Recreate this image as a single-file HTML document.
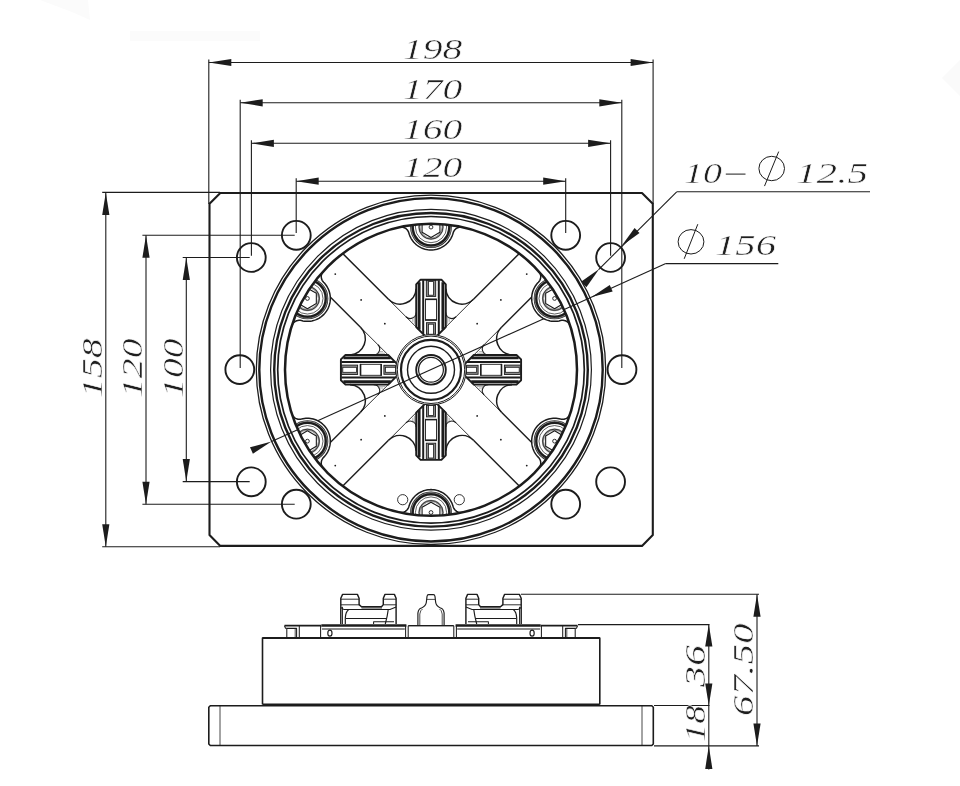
<!DOCTYPE html>
<html><head><meta charset="utf-8"><title>drawing</title><style>html,body{margin:0;padding:0;background:#fff;overflow:hidden}svg{display:block;filter:grayscale(1)}</style></head><body>
<svg width="960" height="786" viewBox="0 0 960 786" shape-rendering="geometricPrecision">
<rect width="960" height="786" fill="#fff"/>
<polygon points="40,0 88,0 90,20 72,12" fill="#fbfbfb"/>
<rect x="130" y="31" width="130" height="10" fill="#fbfbfb"/>
<polygon points="960,60 942,78 960,96" fill="#fafafa"/>
<polygon points="220.3,193 642,193 652.8,203.8 652.8,535.1 642,545.9 220.3,545.9 209.5,535.1 209.5,203.8" fill="none" stroke="#1f1b1c" stroke-width="2.1" stroke-linejoin="round" />
<circle cx="296.3" cy="235.3" r="14.4" fill="none" stroke="#1f1b1c" stroke-width="1.9"/>
<circle cx="565.7" cy="235.3" r="14.4" fill="none" stroke="#1f1b1c" stroke-width="1.9"/>
<circle cx="296.3" cy="504.2" r="14.4" fill="none" stroke="#1f1b1c" stroke-width="1.9"/>
<circle cx="565.7" cy="504.2" r="14.4" fill="none" stroke="#1f1b1c" stroke-width="1.9"/>
<circle cx="251.3" cy="257.5" r="14.4" fill="none" stroke="#1f1b1c" stroke-width="1.9"/>
<circle cx="610.6" cy="257.5" r="14.4" fill="none" stroke="#1f1b1c" stroke-width="1.9"/>
<circle cx="251.3" cy="481.8" r="14.4" fill="none" stroke="#1f1b1c" stroke-width="1.9"/>
<circle cx="610.6" cy="481.8" r="14.4" fill="none" stroke="#1f1b1c" stroke-width="1.9"/>
<circle cx="239.8" cy="369.6" r="14.4" fill="none" stroke="#1f1b1c" stroke-width="1.9"/>
<circle cx="622" cy="369.6" r="14.4" fill="none" stroke="#1f1b1c" stroke-width="1.9"/>
<g transform="rotate(0 431.0 369.8)">
<line x1="521" y1="251.8" x2="473.5" y2="299.3" stroke="#1f1b1c" stroke-width="1.5" />
<line x1="341" y1="251.8" x2="388.5" y2="299.3" stroke="#1f1b1c" stroke-width="1.5" />
</g>
<g transform="rotate(90 431.0 369.8)">
<line x1="521" y1="251.8" x2="473.5" y2="299.3" stroke="#1f1b1c" stroke-width="1.5" />
<line x1="341" y1="251.8" x2="388.5" y2="299.3" stroke="#1f1b1c" stroke-width="1.5" />
</g>
<g transform="rotate(180 431.0 369.8)">
<line x1="521" y1="251.8" x2="473.5" y2="299.3" stroke="#1f1b1c" stroke-width="1.5" />
<line x1="341" y1="251.8" x2="388.5" y2="299.3" stroke="#1f1b1c" stroke-width="1.5" />
</g>
<g transform="rotate(270 431.0 369.8)">
<line x1="521" y1="251.8" x2="473.5" y2="299.3" stroke="#1f1b1c" stroke-width="1.5" />
<line x1="341" y1="251.8" x2="388.5" y2="299.3" stroke="#1f1b1c" stroke-width="1.5" />
</g>
<circle cx="477.17" cy="415.97" r="0.9" fill="#1f1b1c"/>
<circle cx="500.86" cy="439.66" r="0.9" fill="#1f1b1c"/>
<circle cx="526.74" cy="465.54" r="0.9" fill="#1f1b1c"/>
<circle cx="384.83" cy="415.97" r="0.9" fill="#1f1b1c"/>
<circle cx="361.14" cy="439.66" r="0.9" fill="#1f1b1c"/>
<circle cx="335.26" cy="465.54" r="0.9" fill="#1f1b1c"/>
<circle cx="384.83" cy="323.63" r="0.9" fill="#1f1b1c"/>
<circle cx="361.14" cy="299.94" r="0.9" fill="#1f1b1c"/>
<circle cx="335.26" cy="274.06" r="0.9" fill="#1f1b1c"/>
<circle cx="477.17" cy="323.63" r="0.9" fill="#1f1b1c"/>
<circle cx="500.86" cy="299.94" r="0.9" fill="#1f1b1c"/>
<circle cx="526.74" cy="274.06" r="0.9" fill="#1f1b1c"/>
<circle cx="402.7" cy="499.7" r="5.1" fill="none" stroke="#1f1b1c" stroke-width="0.9"/>
<circle cx="459.3" cy="499.7" r="5.1" fill="none" stroke="#1f1b1c" stroke-width="0.9"/>
<clipPath id="inner"><circle cx="431" cy="369.8" r="146"/></clipPath>
<g clip-path="url(#inner)">
<polygon points="570.24,413.72 569.78,414.85 569.16,415.9 568.39,416.85 567.48,417.66 566.45,418.33 565.34,418.83 564.16,419.16 562.95,419.3 561.73,419.26 560.53,419.04 560.53,419.04 559.07,418.69 557.59,418.45 556.1,418.3 554.6,418.25 553.1,418.3 551.61,418.44 550.13,418.69 548.67,419.03 547.23,419.46 545.83,419.99 544.46,420.61 543.14,421.31 541.87,422.1 540.65,422.98 539.49,423.93 538.39,424.95 537.37,426.05 536.42,427.21 535.54,428.43 534.75,429.7 534.04,431.02 533.42,432.39 532.9,433.79 532.46,435.23 532.12,436.69 531.88,438.17 531.73,439.66 531.68,441.16 531.73,442.66 531.88,444.15 532.12,445.63 532.47,447.09 532.9,448.52 533.43,449.93 534.05,451.29 534.76,452.62 535.55,453.89 536.43,455.11 537.38,456.27 538.41,457.36 538.41,457.36 539.2,458.28 539.85,459.32 540.33,460.44 540.63,461.63 540.75,462.84 540.69,464.06 540.43,465.26 540.01,466.4 539.41,467.46 538.65,468.43 543.08,472.48 575.96,415.52" fill="#fff" stroke="#1f1b1c" stroke-width="1.5" stroke-linejoin="round" />
<circle cx="554.58" cy="441.15" r="19" fill="none" stroke="#1f1b1c" stroke-width="3.8"/>
<circle cx="554.58" cy="441.15" r="19.9" fill="none" stroke="#fff" stroke-width="0.45"/>
<circle cx="554.58" cy="441.15" r="15.6" fill="none" stroke="#1f1b1c" stroke-width="0.7"/>
<circle cx="554.58" cy="441.15" r="11.6" fill="none" stroke="#9a9a9a" stroke-width="2.2"/>
<circle cx="554.58" cy="441.15" r="12" fill="none" stroke="#1f1b1c" stroke-width="0.8"/>
<polygon points="554.58,451.45 545.66,446.3 545.66,436 554.58,430.85 563.5,436 563.5,446.3" fill="#fff" stroke="#1f1b1c" stroke-width="1.1" stroke-linejoin="round" />
<circle cx="554.58" cy="441.15" r="1.9" fill="none" stroke="#1f1b1c" stroke-width="0.9"/>
<polygon points="462.59,512.34 461.38,512.51 460.16,512.5 458.95,512.3 457.79,511.92 456.7,511.37 455.71,510.66 454.84,509.8 454.1,508.82 453.53,507.75 453.13,506.59 453.13,506.59 452.69,505.16 452.16,503.76 451.55,502.39 450.84,501.07 450.05,499.79 449.18,498.57 448.23,497.41 447.2,496.32 446.11,495.29 444.95,494.34 443.73,493.46 442.46,492.67 441.14,491.97 439.77,491.35 438.37,490.82 436.93,490.38 435.47,490.04 433.99,489.8 432.5,489.65 431,489.6 429.5,489.65 428.01,489.8 426.53,490.04 425.07,490.38 423.63,490.82 422.23,491.35 420.86,491.97 419.54,492.67 418.27,493.46 417.05,494.34 415.89,495.29 414.8,496.32 413.77,497.41 412.82,498.57 411.95,499.79 411.16,501.07 410.45,502.39 409.84,503.76 409.31,505.16 408.87,506.59 408.87,506.59 408.47,507.75 407.9,508.82 407.16,509.8 406.29,510.66 405.3,511.37 404.21,511.92 403.05,512.3 401.84,512.5 400.62,512.51 399.41,512.34 398.12,518.2 463.88,518.2" fill="#fff" stroke="#1f1b1c" stroke-width="1.5" stroke-linejoin="round" />
<circle cx="431" cy="512.5" r="19" fill="none" stroke="#1f1b1c" stroke-width="3.8"/>
<circle cx="431" cy="512.5" r="19.9" fill="none" stroke="#fff" stroke-width="0.45"/>
<circle cx="431" cy="512.5" r="15.6" fill="none" stroke="#1f1b1c" stroke-width="0.7"/>
<circle cx="431" cy="512.5" r="11.6" fill="none" stroke="#9a9a9a" stroke-width="2.2"/>
<circle cx="431" cy="512.5" r="12" fill="none" stroke="#1f1b1c" stroke-width="0.8"/>
<polygon points="431,522.8 422.08,517.65 422.08,507.35 431,502.2 439.92,507.35 439.92,517.65" fill="#fff" stroke="#1f1b1c" stroke-width="1.1" stroke-linejoin="round" />
<circle cx="431" cy="512.5" r="1.9" fill="none" stroke="#1f1b1c" stroke-width="0.9"/>
<polygon points="323.35,468.43 322.59,467.46 321.99,466.4 321.57,465.26 321.31,464.06 321.25,462.84 321.37,461.63 321.67,460.44 322.15,459.32 322.8,458.28 323.59,457.36 323.59,457.36 324.62,456.27 325.57,455.11 326.45,453.89 327.24,452.62 327.95,451.29 328.57,449.93 329.1,448.52 329.53,447.09 329.88,445.63 330.12,444.15 330.27,442.66 330.32,441.16 330.27,439.66 330.12,438.17 329.88,436.69 329.54,435.23 329.1,433.79 328.58,432.39 327.96,431.02 327.25,429.7 326.46,428.43 325.58,427.21 324.63,426.05 323.61,424.95 322.51,423.93 321.35,422.98 320.13,422.1 318.86,421.31 317.54,420.61 316.17,419.99 314.77,419.46 313.33,419.03 311.87,418.69 310.39,418.44 308.9,418.3 307.4,418.25 305.9,418.3 304.41,418.45 302.93,418.69 301.47,419.04 301.47,419.04 300.27,419.26 299.05,419.3 297.84,419.16 296.66,418.83 295.55,418.33 294.52,417.66 293.61,416.85 292.84,415.9 292.22,414.85 291.76,413.72 286.04,415.52 318.92,472.48" fill="#fff" stroke="#1f1b1c" stroke-width="1.5" stroke-linejoin="round" />
<circle cx="307.42" cy="441.15" r="19" fill="none" stroke="#1f1b1c" stroke-width="3.8"/>
<circle cx="307.42" cy="441.15" r="19.9" fill="none" stroke="#fff" stroke-width="0.45"/>
<circle cx="307.42" cy="441.15" r="15.6" fill="none" stroke="#1f1b1c" stroke-width="0.7"/>
<circle cx="307.42" cy="441.15" r="11.6" fill="none" stroke="#9a9a9a" stroke-width="2.2"/>
<circle cx="307.42" cy="441.15" r="12" fill="none" stroke="#1f1b1c" stroke-width="0.8"/>
<polygon points="307.42,451.45 298.5,446.3 298.5,436 307.42,430.85 316.34,436 316.34,446.3" fill="#fff" stroke="#1f1b1c" stroke-width="1.1" stroke-linejoin="round" />
<circle cx="307.42" cy="441.15" r="1.9" fill="none" stroke="#1f1b1c" stroke-width="0.9"/>
<polygon points="291.76,325.88 292.22,324.75 292.84,323.7 293.61,322.75 294.52,321.94 295.55,321.27 296.66,320.77 297.84,320.44 299.05,320.3 300.27,320.34 301.47,320.56 301.47,320.56 302.93,320.91 304.41,321.15 305.9,321.3 307.4,321.35 308.9,321.3 310.39,321.16 311.87,320.91 313.33,320.57 314.77,320.14 316.17,319.61 317.54,318.99 318.86,318.29 320.13,317.5 321.35,316.62 322.51,315.67 323.61,314.65 324.63,313.55 325.58,312.39 326.46,311.17 327.25,309.9 327.96,308.58 328.58,307.21 329.1,305.81 329.54,304.37 329.88,302.91 330.12,301.43 330.27,299.94 330.32,298.44 330.27,296.94 330.12,295.45 329.88,293.97 329.53,292.51 329.1,291.08 328.57,289.67 327.95,288.31 327.24,286.98 326.45,285.71 325.57,284.49 324.62,283.33 323.59,282.24 323.59,282.24 322.8,281.32 322.15,280.28 321.67,279.16 321.37,277.97 321.25,276.76 321.31,275.54 321.57,274.34 321.99,273.2 322.59,272.14 323.35,271.17 318.92,267.12 286.04,324.08" fill="#fff" stroke="#1f1b1c" stroke-width="1.5" stroke-linejoin="round" />
<circle cx="307.42" cy="298.45" r="19" fill="none" stroke="#1f1b1c" stroke-width="3.8"/>
<circle cx="307.42" cy="298.45" r="19.9" fill="none" stroke="#fff" stroke-width="0.45"/>
<circle cx="307.42" cy="298.45" r="15.6" fill="none" stroke="#1f1b1c" stroke-width="0.7"/>
<circle cx="307.42" cy="298.45" r="11.6" fill="none" stroke="#9a9a9a" stroke-width="2.2"/>
<circle cx="307.42" cy="298.45" r="12" fill="none" stroke="#1f1b1c" stroke-width="0.8"/>
<polygon points="307.42,308.75 298.5,303.6 298.5,293.3 307.42,288.15 316.34,293.3 316.34,303.6" fill="#fff" stroke="#1f1b1c" stroke-width="1.1" stroke-linejoin="round" />
<circle cx="307.42" cy="298.45" r="1.9" fill="none" stroke="#1f1b1c" stroke-width="0.9"/>
<polygon points="399.41,227.26 400.62,227.09 401.84,227.1 403.05,227.3 404.21,227.68 405.3,228.23 406.29,228.94 407.16,229.8 407.9,230.78 408.47,231.85 408.87,233.01 408.87,233.01 409.31,234.44 409.84,235.84 410.45,237.21 411.16,238.53 411.95,239.81 412.82,241.03 413.77,242.19 414.8,243.28 415.89,244.31 417.05,245.26 418.27,246.14 419.54,246.93 420.86,247.63 422.23,248.25 423.63,248.78 425.07,249.22 426.53,249.56 428.01,249.8 429.5,249.95 431,250 432.5,249.95 433.99,249.8 435.47,249.56 436.93,249.22 438.37,248.78 439.77,248.25 441.14,247.63 442.46,246.93 443.73,246.14 444.95,245.26 446.11,244.31 447.2,243.28 448.23,242.19 449.18,241.03 450.05,239.81 450.84,238.53 451.55,237.21 452.16,235.84 452.69,234.44 453.13,233.01 453.13,233.01 453.53,231.85 454.1,230.78 454.84,229.8 455.71,228.94 456.7,228.23 457.79,227.68 458.95,227.3 460.16,227.1 461.38,227.09 462.59,227.26 463.88,221.4 398.12,221.4" fill="#fff" stroke="#1f1b1c" stroke-width="1.5" stroke-linejoin="round" />
<circle cx="431" cy="227.1" r="19" fill="none" stroke="#1f1b1c" stroke-width="3.8"/>
<circle cx="431" cy="227.1" r="19.9" fill="none" stroke="#fff" stroke-width="0.45"/>
<circle cx="431" cy="227.1" r="15.6" fill="none" stroke="#1f1b1c" stroke-width="0.7"/>
<circle cx="431" cy="227.1" r="11.6" fill="none" stroke="#9a9a9a" stroke-width="2.2"/>
<circle cx="431" cy="227.1" r="12" fill="none" stroke="#1f1b1c" stroke-width="0.8"/>
<polygon points="431,237.4 422.08,232.25 422.08,221.95 431,216.8 439.92,221.95 439.92,232.25" fill="#fff" stroke="#1f1b1c" stroke-width="1.1" stroke-linejoin="round" />
<circle cx="431" cy="227.1" r="1.9" fill="none" stroke="#1f1b1c" stroke-width="0.9"/>
<polygon points="538.65,271.17 539.41,272.14 540.01,273.2 540.43,274.34 540.69,275.54 540.75,276.76 540.63,277.97 540.33,279.16 539.85,280.28 539.2,281.32 538.41,282.24 538.41,282.24 537.38,283.33 536.43,284.49 535.55,285.71 534.76,286.98 534.05,288.31 533.43,289.67 532.9,291.08 532.47,292.51 532.12,293.97 531.88,295.45 531.73,296.94 531.68,298.44 531.73,299.94 531.88,301.43 532.12,302.91 532.46,304.37 532.9,305.81 533.42,307.21 534.04,308.58 534.75,309.9 535.54,311.17 536.42,312.39 537.37,313.55 538.39,314.65 539.49,315.67 540.65,316.62 541.87,317.5 543.14,318.29 544.46,318.99 545.83,319.61 547.23,320.14 548.67,320.57 550.13,320.91 551.61,321.16 553.1,321.3 554.6,321.35 556.1,321.3 557.59,321.15 559.07,320.91 560.53,320.56 560.53,320.56 561.73,320.34 562.95,320.3 564.16,320.44 565.34,320.77 566.45,321.27 567.48,321.94 568.39,322.75 569.16,323.7 569.78,324.75 570.24,325.88 575.96,324.08 543.08,267.12" fill="#fff" stroke="#1f1b1c" stroke-width="1.5" stroke-linejoin="round" />
<circle cx="554.58" cy="298.45" r="19" fill="none" stroke="#1f1b1c" stroke-width="3.8"/>
<circle cx="554.58" cy="298.45" r="19.9" fill="none" stroke="#fff" stroke-width="0.45"/>
<circle cx="554.58" cy="298.45" r="15.6" fill="none" stroke="#1f1b1c" stroke-width="0.7"/>
<circle cx="554.58" cy="298.45" r="11.6" fill="none" stroke="#9a9a9a" stroke-width="2.2"/>
<circle cx="554.58" cy="298.45" r="12" fill="none" stroke="#1f1b1c" stroke-width="0.8"/>
<polygon points="554.58,308.75 545.66,303.6 545.66,293.3 554.58,288.15 563.5,293.3 563.5,303.6" fill="#fff" stroke="#1f1b1c" stroke-width="1.1" stroke-linejoin="round" />
<circle cx="554.58" cy="298.45" r="1.9" fill="none" stroke="#1f1b1c" stroke-width="0.9"/>
</g>
<polygon points="599.2,269 586.4,287.2 581,281.8" fill="#1f1b1c"/>
<path d="M256.3,369.8 a174.7,174.7 0 1 0 349.4,0 a174.7,174.7 0 1 0 -349.4,0 Z M285,369.8 a146.0,146.0 0 1 1 292.0,0 a146.0,146.0 0 1 1 -292.0,0 Z" fill="#fff" fill-rule="evenodd" id="annulus"/>
<circle cx="431" cy="369.8" r="174.7" fill="none" stroke="#1f1b1c" stroke-width="1.3"/>
<circle cx="431" cy="369.8" r="171.7" fill="none" stroke="#1f1b1c" stroke-width="2.4"/>
<circle cx="431" cy="369.8" r="160.4" fill="none" stroke="#1f1b1c" stroke-width="1.2"/>
<circle cx="431" cy="369.8" r="156.8" fill="none" stroke="#1f1b1c" stroke-width="2.4"/>
<circle cx="431" cy="369.8" r="153.3" fill="none" stroke="#1f1b1c" stroke-width="1.7"/>
<circle cx="431" cy="369.8" r="146" fill="none" stroke="#1f1b1c" stroke-width="2.5"/>
<g transform="rotate(0 431.0 369.8)">
<line x1="473.5" y1="299.3" x2="439" y2="333.8" stroke="#1f1b1c" stroke-width="0.9" />
<line x1="388.5" y1="299.3" x2="423" y2="333.8" stroke="#1f1b1c" stroke-width="0.9" />
<polyline points="425,335.8 416.2,327 416.2,284.3 420.6,279.7 441.4,279.7 445.8,284.3 445.8,327 437,335.8" fill="#fff" stroke="#1f1b1c" stroke-width="1.9" stroke-linejoin="round" />
<line x1="419.1" y1="329.6" x2="419.1" y2="282.2" stroke="#1f1b1c" stroke-width="2.9" />
<line x1="423.2" y1="333.8" x2="423.2" y2="280.2" stroke="#1f1b1c" stroke-width="2.0" />
<line x1="442.9" y1="329.6" x2="442.9" y2="282.2" stroke="#1f1b1c" stroke-width="2.9" />
<line x1="438.8" y1="333.8" x2="438.8" y2="280.2" stroke="#1f1b1c" stroke-width="2.0" />
<rect x="426.3" y="280.4" width="9.4" height="16.0" fill="#8c8c8c" stroke="#1f1b1c" stroke-width="0.9"/>
<rect x="428.5" y="281.6" width="5.0" height="13.6" fill="#fff" stroke="#1f1b1c" stroke-width="0.8"/>
<rect x="425.5" y="299.4" width="11.0" height="20.6" fill="#fff" stroke="#1f1b1c" stroke-width="0.9"/>
<line x1="425.1" y1="299.3" x2="436.9" y2="299.3" stroke="#1f1b1c" stroke-width="1.6" />
<line x1="425.1" y1="320" x2="436.9" y2="320" stroke="#1f1b1c" stroke-width="1.5" />
<rect x="426.5" y="322.7" width="9" height="11.5" fill="#8c8c8c" stroke="#1f1b1c" stroke-width="0.9"/>
<rect x="428.5" y="324.2" width="5" height="10" fill="#fff" stroke="#1f1b1c" stroke-width="0.8"/>
<path d="M445.8,288.8 A16.2,16.2 0 0 0 473.5,299.3" fill="none" stroke="#1f1b1c" stroke-width="1.6"/>
<path d="M445.8,312.5 A6,6 0 0 0 456.04,316.74" fill="none" stroke="#1f1b1c" stroke-width="1.1"/>
<line x1="447.6" y1="323.8" x2="447.6" y2="315.8" stroke="#777" stroke-width="0.6" />
<line x1="449.2" y1="321.8" x2="449.2" y2="316.8" stroke="#777" stroke-width="0.6" />
<path d="M416.2,288.8 A16.2,16.2 0 0 1 388.5,299.3" fill="none" stroke="#1f1b1c" stroke-width="1.6"/>
<path d="M416.2,312.5 A6,6 0 0 1 405.96,316.74" fill="none" stroke="#1f1b1c" stroke-width="1.1"/>
<line x1="414.4" y1="323.8" x2="414.4" y2="315.8" stroke="#777" stroke-width="0.6" />
<line x1="412.8" y1="321.8" x2="412.8" y2="316.8" stroke="#777" stroke-width="0.6" />
</g>
<g transform="rotate(90 431.0 369.8)">
<line x1="473.5" y1="299.3" x2="439" y2="333.8" stroke="#1f1b1c" stroke-width="0.9" />
<line x1="388.5" y1="299.3" x2="423" y2="333.8" stroke="#1f1b1c" stroke-width="0.9" />
<polyline points="425,335.8 416.2,327 416.2,284.3 420.6,279.7 441.4,279.7 445.8,284.3 445.8,327 437,335.8" fill="#fff" stroke="#1f1b1c" stroke-width="1.9" stroke-linejoin="round" />
<line x1="419.1" y1="329.6" x2="419.1" y2="282.2" stroke="#1f1b1c" stroke-width="2.9" />
<line x1="423.2" y1="333.8" x2="423.2" y2="280.2" stroke="#1f1b1c" stroke-width="2.0" />
<line x1="442.9" y1="329.6" x2="442.9" y2="282.2" stroke="#1f1b1c" stroke-width="2.9" />
<line x1="438.8" y1="333.8" x2="438.8" y2="280.2" stroke="#1f1b1c" stroke-width="2.0" />
<rect x="426.3" y="280.4" width="9.4" height="16.0" fill="#8c8c8c" stroke="#1f1b1c" stroke-width="0.9"/>
<rect x="428.5" y="281.6" width="5.0" height="13.6" fill="#fff" stroke="#1f1b1c" stroke-width="0.8"/>
<rect x="425.5" y="299.4" width="11.0" height="20.6" fill="#fff" stroke="#1f1b1c" stroke-width="0.9"/>
<line x1="425.1" y1="299.3" x2="436.9" y2="299.3" stroke="#1f1b1c" stroke-width="1.6" />
<line x1="425.1" y1="320" x2="436.9" y2="320" stroke="#1f1b1c" stroke-width="1.5" />
<rect x="426.5" y="322.7" width="9" height="11.5" fill="#8c8c8c" stroke="#1f1b1c" stroke-width="0.9"/>
<rect x="428.5" y="324.2" width="5" height="10" fill="#fff" stroke="#1f1b1c" stroke-width="0.8"/>
<path d="M445.8,288.8 A16.2,16.2 0 0 0 473.5,299.3" fill="none" stroke="#1f1b1c" stroke-width="1.6"/>
<path d="M445.8,312.5 A6,6 0 0 0 456.04,316.74" fill="none" stroke="#1f1b1c" stroke-width="1.1"/>
<line x1="447.6" y1="323.8" x2="447.6" y2="315.8" stroke="#777" stroke-width="0.6" />
<line x1="449.2" y1="321.8" x2="449.2" y2="316.8" stroke="#777" stroke-width="0.6" />
<path d="M416.2,288.8 A16.2,16.2 0 0 1 388.5,299.3" fill="none" stroke="#1f1b1c" stroke-width="1.6"/>
<path d="M416.2,312.5 A6,6 0 0 1 405.96,316.74" fill="none" stroke="#1f1b1c" stroke-width="1.1"/>
<line x1="414.4" y1="323.8" x2="414.4" y2="315.8" stroke="#777" stroke-width="0.6" />
<line x1="412.8" y1="321.8" x2="412.8" y2="316.8" stroke="#777" stroke-width="0.6" />
</g>
<g transform="rotate(180 431.0 369.8)">
<line x1="473.5" y1="299.3" x2="439" y2="333.8" stroke="#1f1b1c" stroke-width="0.9" />
<line x1="388.5" y1="299.3" x2="423" y2="333.8" stroke="#1f1b1c" stroke-width="0.9" />
<polyline points="425,335.8 416.2,327 416.2,284.3 420.6,279.7 441.4,279.7 445.8,284.3 445.8,327 437,335.8" fill="#fff" stroke="#1f1b1c" stroke-width="1.9" stroke-linejoin="round" />
<line x1="419.1" y1="329.6" x2="419.1" y2="282.2" stroke="#1f1b1c" stroke-width="2.9" />
<line x1="423.2" y1="333.8" x2="423.2" y2="280.2" stroke="#1f1b1c" stroke-width="2.0" />
<line x1="442.9" y1="329.6" x2="442.9" y2="282.2" stroke="#1f1b1c" stroke-width="2.9" />
<line x1="438.8" y1="333.8" x2="438.8" y2="280.2" stroke="#1f1b1c" stroke-width="2.0" />
<rect x="426.3" y="280.4" width="9.4" height="16.0" fill="#8c8c8c" stroke="#1f1b1c" stroke-width="0.9"/>
<rect x="428.5" y="281.6" width="5.0" height="13.6" fill="#fff" stroke="#1f1b1c" stroke-width="0.8"/>
<rect x="425.5" y="299.4" width="11.0" height="20.6" fill="#fff" stroke="#1f1b1c" stroke-width="0.9"/>
<line x1="425.1" y1="299.3" x2="436.9" y2="299.3" stroke="#1f1b1c" stroke-width="1.6" />
<line x1="425.1" y1="320" x2="436.9" y2="320" stroke="#1f1b1c" stroke-width="1.5" />
<rect x="426.5" y="322.7" width="9" height="11.5" fill="#8c8c8c" stroke="#1f1b1c" stroke-width="0.9"/>
<rect x="428.5" y="324.2" width="5" height="10" fill="#fff" stroke="#1f1b1c" stroke-width="0.8"/>
<path d="M445.8,288.8 A16.2,16.2 0 0 0 473.5,299.3" fill="none" stroke="#1f1b1c" stroke-width="1.6"/>
<path d="M445.8,312.5 A6,6 0 0 0 456.04,316.74" fill="none" stroke="#1f1b1c" stroke-width="1.1"/>
<line x1="447.6" y1="323.8" x2="447.6" y2="315.8" stroke="#777" stroke-width="0.6" />
<line x1="449.2" y1="321.8" x2="449.2" y2="316.8" stroke="#777" stroke-width="0.6" />
<path d="M416.2,288.8 A16.2,16.2 0 0 1 388.5,299.3" fill="none" stroke="#1f1b1c" stroke-width="1.6"/>
<path d="M416.2,312.5 A6,6 0 0 1 405.96,316.74" fill="none" stroke="#1f1b1c" stroke-width="1.1"/>
<line x1="414.4" y1="323.8" x2="414.4" y2="315.8" stroke="#777" stroke-width="0.6" />
<line x1="412.8" y1="321.8" x2="412.8" y2="316.8" stroke="#777" stroke-width="0.6" />
</g>
<g transform="rotate(270 431.0 369.8)">
<line x1="473.5" y1="299.3" x2="439" y2="333.8" stroke="#1f1b1c" stroke-width="0.9" />
<line x1="388.5" y1="299.3" x2="423" y2="333.8" stroke="#1f1b1c" stroke-width="0.9" />
<polyline points="425,335.8 416.2,327 416.2,284.3 420.6,279.7 441.4,279.7 445.8,284.3 445.8,327 437,335.8" fill="#fff" stroke="#1f1b1c" stroke-width="1.9" stroke-linejoin="round" />
<line x1="419.1" y1="329.6" x2="419.1" y2="282.2" stroke="#1f1b1c" stroke-width="2.9" />
<line x1="423.2" y1="333.8" x2="423.2" y2="280.2" stroke="#1f1b1c" stroke-width="2.0" />
<line x1="442.9" y1="329.6" x2="442.9" y2="282.2" stroke="#1f1b1c" stroke-width="2.9" />
<line x1="438.8" y1="333.8" x2="438.8" y2="280.2" stroke="#1f1b1c" stroke-width="2.0" />
<rect x="426.3" y="280.4" width="9.4" height="16.0" fill="#8c8c8c" stroke="#1f1b1c" stroke-width="0.9"/>
<rect x="428.5" y="281.6" width="5.0" height="13.6" fill="#fff" stroke="#1f1b1c" stroke-width="0.8"/>
<rect x="425.5" y="299.4" width="11.0" height="20.6" fill="#fff" stroke="#1f1b1c" stroke-width="0.9"/>
<line x1="425.1" y1="299.3" x2="436.9" y2="299.3" stroke="#1f1b1c" stroke-width="1.6" />
<line x1="425.1" y1="320" x2="436.9" y2="320" stroke="#1f1b1c" stroke-width="1.5" />
<rect x="426.5" y="322.7" width="9" height="11.5" fill="#8c8c8c" stroke="#1f1b1c" stroke-width="0.9"/>
<rect x="428.5" y="324.2" width="5" height="10" fill="#fff" stroke="#1f1b1c" stroke-width="0.8"/>
<path d="M445.8,288.8 A16.2,16.2 0 0 0 473.5,299.3" fill="none" stroke="#1f1b1c" stroke-width="1.6"/>
<path d="M445.8,312.5 A6,6 0 0 0 456.04,316.74" fill="none" stroke="#1f1b1c" stroke-width="1.1"/>
<line x1="447.6" y1="323.8" x2="447.6" y2="315.8" stroke="#777" stroke-width="0.6" />
<line x1="449.2" y1="321.8" x2="449.2" y2="316.8" stroke="#777" stroke-width="0.6" />
<path d="M416.2,288.8 A16.2,16.2 0 0 1 388.5,299.3" fill="none" stroke="#1f1b1c" stroke-width="1.6"/>
<path d="M416.2,312.5 A6,6 0 0 1 405.96,316.74" fill="none" stroke="#1f1b1c" stroke-width="1.1"/>
<line x1="414.4" y1="323.8" x2="414.4" y2="315.8" stroke="#777" stroke-width="0.6" />
<line x1="412.8" y1="321.8" x2="412.8" y2="316.8" stroke="#777" stroke-width="0.6" />
</g>
<circle cx="431" cy="369.8" r="35.2" fill="#fff" stroke="#1f1b1c" stroke-width="1.0"/>
<circle cx="431" cy="369.8" r="33.7" fill="none" stroke="#1f1b1c" stroke-width="1.0"/>
<circle cx="431" cy="369.8" r="30" fill="none" stroke="#1f1b1c" stroke-width="2.2"/>
<circle cx="431" cy="369.8" r="23.5" fill="none" stroke="#1f1b1c" stroke-width="1.4"/>
<circle cx="431" cy="369.8" r="14.8" fill="none" stroke="#1f1b1c" stroke-width="1.9"/>
<circle cx="431" cy="369.8" r="12.4" fill="none" stroke="#1f1b1c" stroke-width="1.2"/>
<line x1="665.8" y1="263.6" x2="563.07" y2="309.95" stroke="#1f1b1c" stroke-width="1.1" />
<line x1="543.79" y1="318.65" x2="317.67" y2="420.67" stroke="#1f1b1c" stroke-width="1.1" />
<line x1="298.73" y1="429.21" x2="271.5" y2="441.5" stroke="#1f1b1c" stroke-width="1.1" />
<line x1="665.8" y1="263.6" x2="778.3" y2="263.6" stroke="#1f1b1c" stroke-width="1.1" />
<polygon points="591.6,297.1 612.64,291.45 609.76,285.07" fill="#1f1b1c"/>
<polygon points="271.5,441.5 250.01,447.36 252.89,453.74" fill="#1f1b1c"/>
<line x1="676.7" y1="191.8" x2="870" y2="191.8" stroke="#1f1b1c" stroke-width="1.1" />
<line x1="676.7" y1="191.8" x2="598.6" y2="269.6" stroke="#1f1b1c" stroke-width="1.1" />
<polygon points="621.5,246.1 639.53,233.02 634.58,228.07" fill="#1f1b1c"/>
<line x1="208.8" y1="59.5" x2="208.8" y2="204" stroke="#1f1b1c" stroke-width="1.1" />
<line x1="653.1" y1="59.5" x2="653.1" y2="204" stroke="#1f1b1c" stroke-width="1.1" />
<line x1="208.8" y1="62.5" x2="653.1" y2="62.5" stroke="#1f1b1c" stroke-width="1.1" />
<polygon points="208.8,62.5 231.3,66.1 231.3,58.9" fill="#1f1b1c"/>
<polygon points="653.1,62.5 630.6,58.9 630.6,66.1" fill="#1f1b1c"/>
<line x1="240.2" y1="99.8" x2="240.2" y2="367.9" stroke="#1f1b1c" stroke-width="1.1" />
<line x1="621.8" y1="99.8" x2="621.8" y2="367.9" stroke="#1f1b1c" stroke-width="1.1" />
<line x1="240.2" y1="102.8" x2="621.8" y2="102.8" stroke="#1f1b1c" stroke-width="1.1" />
<polygon points="240.2,102.8 262.7,106.4 262.7,99.2" fill="#1f1b1c"/>
<polygon points="621.8,102.8 599.3,99.2 599.3,106.4" fill="#1f1b1c"/>
<line x1="251.4" y1="140.3" x2="251.4" y2="255.8" stroke="#1f1b1c" stroke-width="1.1" />
<line x1="610.6" y1="140.3" x2="610.6" y2="255.8" stroke="#1f1b1c" stroke-width="1.1" />
<line x1="251.4" y1="143.3" x2="610.6" y2="143.3" stroke="#1f1b1c" stroke-width="1.1" />
<polygon points="251.4,143.3 273.9,146.9 273.9,139.7" fill="#1f1b1c"/>
<polygon points="610.6,143.3 588.1,139.7 588.1,146.9" fill="#1f1b1c"/>
<line x1="296.2" y1="178.2" x2="296.2" y2="232.9" stroke="#1f1b1c" stroke-width="1.1" />
<line x1="565.7" y1="178.2" x2="565.7" y2="232.9" stroke="#1f1b1c" stroke-width="1.1" />
<line x1="296.2" y1="181.2" x2="565.7" y2="181.2" stroke="#1f1b1c" stroke-width="1.1" />
<polygon points="296.2,181.2 318.7,184.8 318.7,177.6" fill="#1f1b1c"/>
<polygon points="565.7,181.2 543.2,177.6 543.2,184.8" fill="#1f1b1c"/>
<line x1="102.2" y1="192.4" x2="220" y2="192.4" stroke="#1f1b1c" stroke-width="1.1" />
<line x1="102.2" y1="546.8" x2="220" y2="546.8" stroke="#1f1b1c" stroke-width="1.1" />
<line x1="105.8" y1="192.4" x2="105.8" y2="546.8" stroke="#1f1b1c" stroke-width="1.1" />
<polygon points="105.8,192.4 102.2,214.9 109.4,214.9" fill="#1f1b1c"/>
<polygon points="105.8,546.8 109.4,524.3 102.2,524.3" fill="#1f1b1c"/>
<line x1="142.4" y1="235.2" x2="294.7" y2="235.2" stroke="#1f1b1c" stroke-width="1.1" />
<line x1="142.4" y1="504.2" x2="294.7" y2="504.2" stroke="#1f1b1c" stroke-width="1.1" />
<line x1="146" y1="235.2" x2="146" y2="504.2" stroke="#1f1b1c" stroke-width="1.1" />
<polygon points="146,235.2 142.4,257.7 149.6,257.7" fill="#1f1b1c"/>
<polygon points="146,504.2 149.6,481.7 142.4,481.7" fill="#1f1b1c"/>
<line x1="182.7" y1="257.5" x2="249.7" y2="257.5" stroke="#1f1b1c" stroke-width="1.1" />
<line x1="182.7" y1="481.6" x2="249.7" y2="481.6" stroke="#1f1b1c" stroke-width="1.1" />
<line x1="186.3" y1="257.5" x2="186.3" y2="481.6" stroke="#1f1b1c" stroke-width="1.1" />
<polygon points="186.3,257.5 182.7,280 189.9,280" fill="#1f1b1c"/>
<polygon points="186.3,481.6 189.9,459.1 182.7,459.1" fill="#1f1b1c"/>
<text x="432.6" y="58.8" font-family="Liberation Serif" font-style="italic" font-size="30.0" fill="#221e1f" stroke="#fff" stroke-width="0.5" paint-order="fill stroke" text-anchor="middle" textLength="59.5" lengthAdjust="spacingAndGlyphs">198</text>
<text x="432.6" y="98.9" font-family="Liberation Serif" font-style="italic" font-size="30.0" fill="#221e1f" stroke="#fff" stroke-width="0.5" paint-order="fill stroke" text-anchor="middle" textLength="59.5" lengthAdjust="spacingAndGlyphs">170</text>
<text x="432.6" y="139.4" font-family="Liberation Serif" font-style="italic" font-size="30.0" fill="#221e1f" stroke="#fff" stroke-width="0.5" paint-order="fill stroke" text-anchor="middle" textLength="59.5" lengthAdjust="spacingAndGlyphs">160</text>
<text x="432.6" y="177.4" font-family="Liberation Serif" font-style="italic" font-size="30.0" fill="#221e1f" stroke="#fff" stroke-width="0.5" paint-order="fill stroke" text-anchor="middle" textLength="59.5" lengthAdjust="spacingAndGlyphs">120</text>
<text x="102.3" y="368.2" font-family="Liberation Serif" font-style="italic" font-size="30.0" fill="#221e1f" stroke="#fff" stroke-width="0.5" paint-order="fill stroke" text-anchor="middle" textLength="59.5" lengthAdjust="spacingAndGlyphs" transform="rotate(-90 102.3 368.2)">158</text>
<text x="142.2" y="368.2" font-family="Liberation Serif" font-style="italic" font-size="30.0" fill="#221e1f" stroke="#fff" stroke-width="0.5" paint-order="fill stroke" text-anchor="middle" textLength="59.5" lengthAdjust="spacingAndGlyphs" transform="rotate(-90 142.2 368.2)">120</text>
<text x="182.8" y="368.2" font-family="Liberation Serif" font-style="italic" font-size="30.0" fill="#221e1f" stroke="#fff" stroke-width="0.5" paint-order="fill stroke" text-anchor="middle" textLength="59.5" lengthAdjust="spacingAndGlyphs" transform="rotate(-90 182.8 368.2)">100</text>
<text x="684" y="183.3" font-family="Liberation Serif" font-style="italic" font-size="30.0" fill="#221e1f" stroke="#fff" stroke-width="0.5" paint-order="fill stroke" textLength="38" lengthAdjust="spacingAndGlyphs">10</text>
<line x1="725.8" y1="174.1" x2="745.5" y2="174.1" stroke="#1f1b1c" stroke-width="1.0" />
<ellipse cx="771.7" cy="168.5" rx="12.8" ry="12.2" fill="none" stroke="#1f1b1c" stroke-width="1.0"/>
<line x1="778.7" y1="151.6" x2="764.5" y2="186.1" stroke="#1f1b1c" stroke-width="1.0" />
<text x="796" y="183.3" font-family="Liberation Serif" font-style="italic" font-size="30.0" fill="#221e1f" stroke="#fff" stroke-width="0.5" paint-order="fill stroke" textLength="72" lengthAdjust="spacingAndGlyphs">12.5</text>
<ellipse cx="691" cy="241.8" rx="12.9" ry="12.2" fill="none" stroke="#1f1b1c" stroke-width="1.0"/>
<line x1="697.8" y1="224.2" x2="684.2" y2="258.8" stroke="#1f1b1c" stroke-width="1.0" />
<text x="715" y="255" font-family="Liberation Serif" font-style="italic" font-size="30.0" fill="#221e1f" stroke="#fff" stroke-width="0.5" paint-order="fill stroke" textLength="61" lengthAdjust="spacingAndGlyphs">156</text>
<polygon points="210.3,705.8 651.8,705.8 653.3,707.3 653.3,744 651.8,745.5 210.3,745.5 208.8,744 208.8,707.3" fill="none" stroke="#1f1b1c" stroke-width="1.6" stroke-linejoin="round" />
<line x1="220" y1="705.8" x2="220" y2="745.5" stroke="#1f1b1c" stroke-width="0.8" />
<line x1="642" y1="705.8" x2="642" y2="745.5" stroke="#1f1b1c" stroke-width="0.8" />
<polyline points="262.5,704.5 262.5,638 599.8,638 599.8,704.5" fill="none" stroke="#1f1b1c" stroke-width="1.6" stroke-linejoin="round" />
<line x1="262.5" y1="638" x2="599.8" y2="638" stroke="#1f1b1c" stroke-width="1.9" />
<line x1="262.5" y1="704.5" x2="599.8" y2="704.5" stroke="#1f1b1c" stroke-width="2.2" />
<line x1="284.5" y1="625.7" x2="321.4" y2="625.7" stroke="#1f1b1c" stroke-width="1.69" />
<polyline points="284.5,625.7 285.5,628.2 296.8,628.2" fill="none" stroke="#1f1b1c" stroke-width="1.04" stroke-linejoin="round" />
<polyline points="286.8,638 286.8,628.4 296.6,628.4 296.6,638" fill="none" stroke="#1f1b1c" stroke-width="1.04" stroke-linejoin="round" />
<line x1="295.2" y1="628.4" x2="295.2" y2="638" stroke="#1f1b1c" stroke-width="0.78" />
<line x1="299.3" y1="626" x2="299.3" y2="638" stroke="#1f1b1c" stroke-width="1.04" />
<line x1="320.6" y1="626" x2="320.6" y2="638" stroke="#1f1b1c" stroke-width="1.04" />
<line x1="321.4" y1="625.5" x2="406.4" y2="625.5" stroke="#1f1b1c" stroke-width="2.6" />
<line x1="322" y1="628.9" x2="404.8" y2="628.9" stroke="#1f1b1c" stroke-width="1.04" />
<line x1="405.6" y1="625" x2="405.6" y2="638" stroke="#1f1b1c" stroke-width="1.04" />
<line x1="408.2" y1="625.7" x2="408.2" y2="638" stroke="#1f1b1c" stroke-width="1.04" />
<line x1="408.2" y1="625.7" x2="431" y2="625.7" stroke="#1f1b1c" stroke-width="1.43" />
<ellipse cx="329.9" cy="633.2" rx="2.1" ry="3" fill="none" stroke="#1f1b1c" stroke-width="1.17"/>
<polyline points="340.8,624 340.8,598.2 342.6,594.4 357.4,594.4 359.1,598.2 359.1,604.6 361.5,606.8 381.5,606.8 383.3,604.6 383.3,598.2 385,594.4 394.4,594.4 396.1,598.2 396.1,624" fill="none" stroke="#1f1b1c" stroke-width="1.43" stroke-linejoin="round" />
<line x1="340.8" y1="599.2" x2="359.1" y2="599.2" stroke="#1f1b1c" stroke-width="0.91" />
<line x1="340.8" y1="604.8" x2="359.1" y2="604.8" stroke="#1f1b1c" stroke-width="0.91" />
<line x1="383.3" y1="599.2" x2="396.1" y2="599.2" stroke="#1f1b1c" stroke-width="0.91" />
<line x1="383.3" y1="604.8" x2="396.1" y2="604.8" stroke="#1f1b1c" stroke-width="0.91" />
<line x1="361.5" y1="608" x2="382" y2="608" stroke="#1f1b1c" stroke-width="0.91" />
<path d="M340.8,607.5 L344,609.6 L390,609.6 L396.1,607" fill="none" stroke="#1f1b1c" stroke-width="1.04"/>
<path d="M345.3,624 L345.3,618 Q345.6,612 348.5,609.8" fill="none" stroke="#1f1b1c" stroke-width="1.17"/>
<path d="M385.3,624 Q387.5,616 388.2,609.8" fill="none" stroke="#1f1b1c" stroke-width="1.17"/>
<line x1="342.5" y1="606.8" x2="342.5" y2="624" stroke="#1f1b1c" stroke-width="0.91" />
<line x1="346" y1="618.6" x2="386.5" y2="618.6" stroke="#1f1b1c" stroke-width="1.04" />
<polyline points="373.6,624 373.6,621.8 394,621.8" fill="none" stroke="#1f1b1c" stroke-width="1.04" stroke-linejoin="round" />
<path d="M417.9,625 L417.9,613 Q418.6,608.5 421.5,608 Q425.8,606 426.3,602.5 L427,596.5 Q427.3,594.6 428.6,594.6 L431,594.6" fill="none" stroke="#1f1b1c" stroke-width="1.17"/>
<path d="M419.8,625 L419.8,614 Q420.4,610 422.5,609" fill="none" stroke="#1f1b1c" stroke-width="0.78"/>
<line x1="427" y1="599.4" x2="431" y2="599.4" stroke="#1f1b1c" stroke-width="0.78" />
<line x1="577.5" y1="625.7" x2="540.6" y2="625.7" stroke="#1f1b1c" stroke-width="1.69" />
<polyline points="577.5,625.7 576.5,628.2 565.2,628.2" fill="none" stroke="#1f1b1c" stroke-width="1.04" stroke-linejoin="round" />
<polyline points="575.2,638 575.2,628.4 565.4,628.4 565.4,638" fill="none" stroke="#1f1b1c" stroke-width="1.04" stroke-linejoin="round" />
<line x1="566.8" y1="628.4" x2="566.8" y2="638" stroke="#1f1b1c" stroke-width="0.78" />
<line x1="562.7" y1="626" x2="562.7" y2="638" stroke="#1f1b1c" stroke-width="1.04" />
<line x1="541.4" y1="626" x2="541.4" y2="638" stroke="#1f1b1c" stroke-width="1.04" />
<line x1="540.6" y1="625.5" x2="455.6" y2="625.5" stroke="#1f1b1c" stroke-width="2.6" />
<line x1="540" y1="628.9" x2="457.2" y2="628.9" stroke="#1f1b1c" stroke-width="1.04" />
<line x1="456.4" y1="625" x2="456.4" y2="638" stroke="#1f1b1c" stroke-width="1.04" />
<line x1="453.8" y1="625.7" x2="453.8" y2="638" stroke="#1f1b1c" stroke-width="1.04" />
<line x1="453.8" y1="625.7" x2="431" y2="625.7" stroke="#1f1b1c" stroke-width="1.43" />
<ellipse cx="532.1" cy="633.2" rx="2.1" ry="3" fill="none" stroke="#1f1b1c" stroke-width="1.17"/>
<polyline points="521.2,624 521.2,598.2 519.4,594.4 504.6,594.4 502.9,598.2 502.9,604.6 500.5,606.8 480.5,606.8 478.7,604.6 478.7,598.2 477,594.4 467.6,594.4 465.9,598.2 465.9,624" fill="none" stroke="#1f1b1c" stroke-width="1.43" stroke-linejoin="round" />
<line x1="521.2" y1="599.2" x2="502.9" y2="599.2" stroke="#1f1b1c" stroke-width="0.91" />
<line x1="521.2" y1="604.8" x2="502.9" y2="604.8" stroke="#1f1b1c" stroke-width="0.91" />
<line x1="478.7" y1="599.2" x2="465.9" y2="599.2" stroke="#1f1b1c" stroke-width="0.91" />
<line x1="478.7" y1="604.8" x2="465.9" y2="604.8" stroke="#1f1b1c" stroke-width="0.91" />
<line x1="500.5" y1="608" x2="480" y2="608" stroke="#1f1b1c" stroke-width="0.91" />
<path d="M521.2,607.5 L518,609.6 L472,609.6 L465.9,607" fill="none" stroke="#1f1b1c" stroke-width="1.04"/>
<path d="M516.7,624 L516.7,618 Q516.4,612 513.5,609.8" fill="none" stroke="#1f1b1c" stroke-width="1.17"/>
<path d="M476.7,624 Q474.5,616 473.8,609.8" fill="none" stroke="#1f1b1c" stroke-width="1.17"/>
<line x1="519.5" y1="606.8" x2="519.5" y2="624" stroke="#1f1b1c" stroke-width="0.91" />
<line x1="516" y1="618.6" x2="475.5" y2="618.6" stroke="#1f1b1c" stroke-width="1.04" />
<polyline points="488.4,624 488.4,621.8 468,621.8" fill="none" stroke="#1f1b1c" stroke-width="1.04" stroke-linejoin="round" />
<path d="M444.1,625 L444.1,613 Q443.4,608.5 440.5,608 Q436.2,606 435.7,602.5 L435,596.5 Q434.7,594.6 433.4,594.6 L431,594.6" fill="none" stroke="#1f1b1c" stroke-width="1.17"/>
<path d="M442.2,625 L442.2,614 Q441.6,610 439.5,609" fill="none" stroke="#1f1b1c" stroke-width="0.78"/>
<line x1="435" y1="599.4" x2="431" y2="599.4" stroke="#1f1b1c" stroke-width="0.78" />
<line x1="521" y1="594.3" x2="759" y2="594.3" stroke="#1f1b1c" stroke-width="1.1" />
<line x1="578" y1="624.6" x2="709.5" y2="624.6" stroke="#1f1b1c" stroke-width="1.1" />
<line x1="654" y1="705.5" x2="709.5" y2="705.5" stroke="#1f1b1c" stroke-width="1.1" />
<line x1="654" y1="745.9" x2="759" y2="745.9" stroke="#1f1b1c" stroke-width="1.1" />
<line x1="708.8" y1="624.6" x2="708.8" y2="769.5" stroke="#1f1b1c" stroke-width="1.1" />
<polygon points="708.8,624.6 705.2,646.6 712.4,646.6" fill="#1f1b1c"/>
<polygon points="708.8,705.5 712.4,683.5 705.2,683.5" fill="#1f1b1c"/>
<polygon points="708.8,745.9 705.2,768.9 712.4,768.9" fill="#1f1b1c"/>
<line x1="757" y1="594.3" x2="757" y2="745.9" stroke="#1f1b1c" stroke-width="1.1" />
<polygon points="757,594.3 753.4,616.8 760.6,616.8" fill="#1f1b1c"/>
<polygon points="757,745.9 760.6,723.4 753.4,723.4" fill="#1f1b1c"/>
<text x="704.9" y="665.9" font-family="Liberation Serif" font-style="italic" font-size="29.3" fill="#221e1f" stroke="#fff" stroke-width="0.5" paint-order="fill stroke" text-anchor="middle" textLength="42" lengthAdjust="spacingAndGlyphs" transform="rotate(-90 704.9 665.9)">36</text>
<text x="704.9" y="723.8" font-family="Liberation Serif" font-style="italic" font-size="29.3" fill="#221e1f" stroke="#fff" stroke-width="0.5" paint-order="fill stroke" text-anchor="middle" textLength="37" lengthAdjust="spacingAndGlyphs" transform="rotate(-90 704.9 723.8)">18</text>
<text x="753.2" y="669.7" font-family="Liberation Serif" font-style="italic" font-size="29.3" fill="#221e1f" stroke="#fff" stroke-width="0.5" paint-order="fill stroke" text-anchor="middle" textLength="93" lengthAdjust="spacingAndGlyphs" transform="rotate(-90 753.2 669.7)">67.50</text>
</svg>
</body></html>
